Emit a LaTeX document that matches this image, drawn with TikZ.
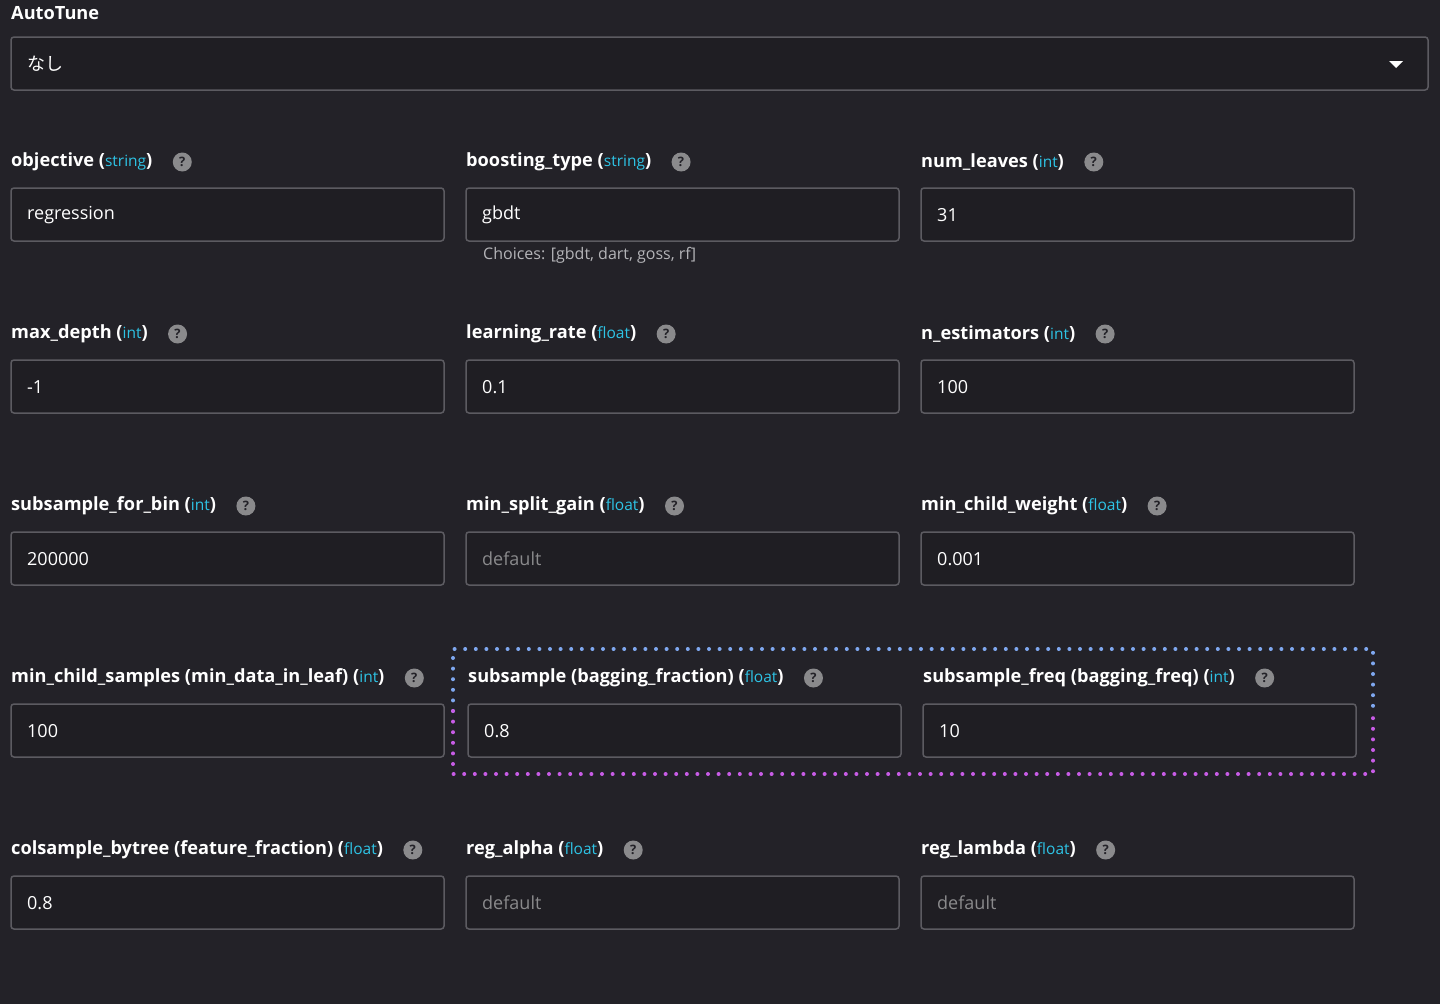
\documentclass[tikz,border=0pt]{standalone}
\usepackage{fontspec}
\setmainfont{Open Sans}
\newfontfamily\cjk{Noto Sans CJK JP}
\usetikzlibrary{positioning}
\definecolor{bg}{HTML}{232228}
\definecolor{boxbg}{HTML}{1F1E23}
\definecolor{edge}{HTML}{5C5B61}
\definecolor{typec}{HTML}{2EC4E6}
\definecolor{qgray}{HTML}{8A8A8C}
\definecolor{hint}{HTML}{B4B4B8}
\definecolor{dotblue}{HTML}{7FA8F0}
\definecolor{dotpink}{HTML}{C85CE6}
\tikzset{
  lbl/.style={anchor=west, text=white, font=\fontsize{18.2}{20}\selectfont\bfseries, inner sep=0pt},
  qmark/.style={circle, fill=qgray, minimum size=19pt, inner sep=0pt, text=bg, font=\fontsize{13}{13}\selectfont\bfseries},
  field/.style={draw=edge, fill=boxbg, line width=1.5pt, rounded corners=3pt},
  val/.style={anchor=west, text=white, font=\fontsize{18}{20}\selectfont, inner sep=0pt},
  dflt/.style={val, text=qgray}
}
% \param{name}{x}{y}{label}{type}{value}{value style}
\newcommand{\param}[7]{%
  \node[lbl] (#1l) at (#2,#3) {#4 (\textcolor{typec}{\mdseries\fontsize{15.5}{15}\selectfont #5})};
  \node[qmark, right=20pt of #1l] (#1q) {?};
  \draw[field] (#2,#3+26) rectangle ++(433,53);
  \node[#7] (#1v) at (#2+16,#3+53) {#6};
}
\begin{document}
\begin{tikzpicture}[x=1pt, y=-1pt]
\fill[bg] (0,0) rectangle (1440,1004);
\useasboundingbox (0,0) rectangle (1440,1004);
% AutoTune
\node[lbl] (autol) at (11,13) {AutoTune};
\draw[field] (11,37) rectangle (1428,90);
\node[val] (autov) at (27,64) {\cjk なし};
\fill[white] (1389,61) -- (1403,61) -- (1396,68) -- cycle;
% row 1
\param{obj}{11}{162}{objective}{string}{regression}{val}
\param{boost}{466}{162}{boosting\_type}{string}{gbdt}{val}
\param{leaves}{921}{162}{num\_leaves}{int}{31}{val}
\node[anchor=west, text=hint, font=\fontsize{16}{18}\selectfont, inner sep=0pt] (choices) at (483,255) {Choices: [gbdt, dart, goss, rf]};
% row 2
\param{depth}{11}{334}{max\_depth}{int}{-1}{val}
\param{lr}{466}{334}{learning\_rate}{float}{0.1}{val}
\param{nest}{921}{334}{n\_estimators}{int}{100}{val}
% row 3
\param{bin}{11}{506}{subsample\_for\_bin}{int}{200000}{val}
\param{gain}{466}{506}{min\_split\_gain}{float}{default}{dflt}
\param{weight}{921}{506}{min\_child\_weight}{float}{0.001}{val}
% row 4
\param{csamp}{11}{678}{min\_child\_samples (min\_data\_in\_leaf)}{int}{100}{val}
\param{sub}{468}{678}{subsample (bagging\_fraction)}{float}{0.8}{val}
\param{freq}{923}{678}{subsample\_freq (bagging\_freq)}{int}{10}{val}
% highlight
\draw[dotblue, line width=4pt, line cap=round, dash pattern=on 0pt off 10.6pt] (453,711) -- (453,649) -- (1373,649) -- (1373,711);
\draw[dotpink, line width=4pt, line cap=round, dash pattern=on 0pt off 10.6pt] (453,711) -- (453,774) -- (1373,774) -- (1373,711);
% row 5
\param{col}{11}{850}{colsample\_bytree (feature\_fraction)}{float}{0.8}{val}
\param{alpha}{466}{850}{reg\_alpha}{float}{default}{dflt}
\param{lambda}{921}{850}{reg\_lambda}{float}{default}{dflt}
\end{tikzpicture}
\end{document}
